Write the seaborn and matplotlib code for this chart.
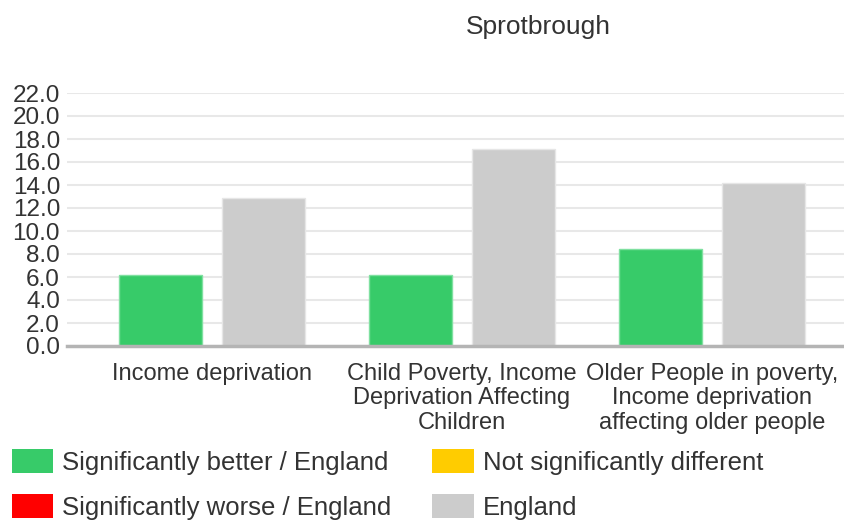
import matplotlib
matplotlib.use("Agg")
import matplotlib.pyplot as plt
import seaborn as sns
import pandas as pd
from matplotlib.patches import Patch

categories = ["Income deprivation",
              "Child Poverty, Income\nDeprivation Affecting\nChildren",
              "Older People in poverty,\nIncome deprivation\naffecting older people"]
area_values = [6.2, 6.2, 8.4]
england_values = [12.9, 17.1, 14.2]
series_names = ["Sprotbrough", "England"]
yticks = [0, 2, 4, 6, 8, 10, 12, 14, 16, 18, 20, 22]
legend_labels = ["Significantly better / England", "Significantly worse / England",
                 "Not significantly different", "England"]
legend_colors = ["#37cb69", "#ff0000", "#ffcc00", "#cccccc"]

df = pd.DataFrame({
    "category": categories * 2,
    "series": [series_names[0]] * 3 + [series_names[1]] * 3,
    "value": area_values + england_values,
})

sns.set_theme(style="white")
plt.rcParams['font.family'] = ['Liberation Sans', 'DejaVu Sans']

W, H = 844, 520
fig = plt.figure(figsize=(W / 100, H / 100), dpi=100)
ax = fig.add_axes([67 / W, 1 - 346 / H, (W - 67) / W, (346 - 93) / H])

sns.barplot(data=df, x="category", y="value", hue="series",
            palette={"Sprotbrough": "#37cb69", "England": "#cccccc"},
            saturation=1, width=0.83, gap=0.2, ax=ax, legend=False,
            linewidth=1, edgecolor="none")
for p in ax.patches:
    fc = p.get_facecolor()
    p.set_edgecolor("#e6e6e6" if fc[0] > 0.7 else "#7fe0a0")

ax.set_xlim(-0.58, 2.528)
ax.set_ylim(0, 22)
ax.set_yticks(yticks)
ax.set_yticklabels([f"{v:.1f}" for v in yticks])
ax.yaxis.grid(True, color="#e8e8e8", linewidth=1.5)
ax.set_axisbelow(True)
for s in ["top", "right", "left"]:
    ax.spines[s].set_visible(False)
ax.spines["bottom"].set_color("#b4b4b4")
ax.spines["bottom"].set_linewidth(2.5)
ax.set_xlabel("")
ax.set_ylabel("")
ax.tick_params(axis="y", length=0, pad=5, labelsize=17.5, labelcolor="#333333")
ax.tick_params(axis="x", length=6, width=1, color="#cccccc", pad=6,
               labelsize=17, labelcolor="#333333")
for lbl in ax.get_xticklabels():
    lbl.set_linespacing(1.15)

fig.text(538 / W, 1 - 27 / H, "Sprotbrough", ha="center", va="center",
         fontsize=19, color="#333333")

handles = [Patch(facecolor=c, edgecolor="none") for c in legend_colors]
leg = fig.legend(handles, legend_labels, ncol=2, loc="upper left",
                 bbox_to_anchor=(12 / W, 1 - 449 / H), frameon=False,
                 fontsize=18.5, handlelength=1.6, handleheight=1.05,
                 handletextpad=0.35, columnspacing=1.6, labelspacing=0.75,
                 borderaxespad=0, borderpad=0)
for t in leg.get_texts():
    t.set_color("#333333")

fig.savefig("out.png", dpi=100)
